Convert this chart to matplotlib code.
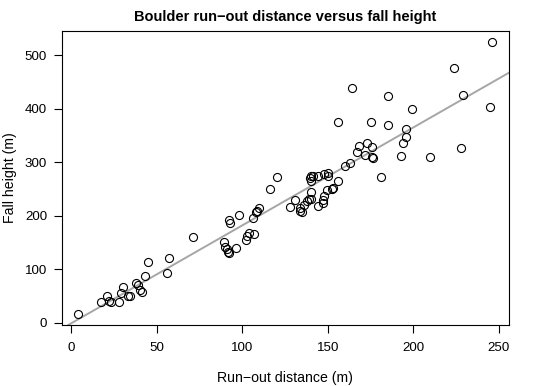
import numpy as np
import matplotlib
matplotlib.use("Agg")
import matplotlib.pyplot as plt

plt.rcParams['font.family'] = ['Liberation Sans', 'DejaVu Sans']

# run-out distance (m) and fall height (m)
runout = [4, 17.5, 20.8, 21.8, 23, 28, 29, 30, 33, 34.5,
          38, 39, 40, 41, 43, 45, 56, 57, 71, 89,
          90, 91, 91.5, 92, 96, 92, 93, 98, 102, 103,
          104, 107, 106, 108, 108.5, 110, 116, 120, 128, 131,
          134, 135, 134, 136, 138, 139, 140, 140, 140, 139.6,
          140, 141.5, 144, 148, 150, 150.3, 144, 147, 147.4, 148,
          149.4, 152.3, 153.2, 155.8, 156, 160, 163, 164, 167, 168,
          172, 173, 175.6, 175.6, 176.6, 175, 181, 185, 185, 194,
          193, 196, 196, 199, 210, 224, 228, 229, 245, 246]
height = [16, 39, 50, 41, 38, 39, 55, 67, 50, 50,
          74, 70, 61, 57, 88, 113, 92, 120, 160, 150,
          142, 137, 133, 130, 139, 192, 187, 201, 155, 162,
          167, 166, 196, 206, 209, 214, 250, 273, 217, 229,
          209, 206, 214, 220, 228, 231, 231, 245, 274, 270,
          264, 274, 275, 277.5, 279, 274, 218, 223, 229.5, 236,
          248, 249.5, 252.5, 264, 376, 293, 298, 438, 319, 331,
          314, 336, 328, 310, 307, 376, 273, 424, 370, 336,
          312, 362, 347, 400, 309, 476, 327, 425, 403, 525]

# fitted line drawn in grey
fit_slope = 1.83
fit_intercept = -1.0

x_ticks = [0, 50, 100, 150, 200, 250]
y_ticks = [0, 100, 200, 300, 400, 500]

W, H = 540, 386
fig = plt.figure(figsize=(W / 100, H / 100), dpi=100)
ax = fig.add_axes([61.7 / W, 1 - 325 / H, (508.5 - 61.7) / W, (325 - 31) / H])

ax.plot(runout, height, 'o', mfc='none', mec='black', ms=5.8, mew=0.8)
ax.axline((0, fit_intercept), slope=fit_slope, color='#a6a6a6', lw=1.4, zorder=1)


def r_lim(v):
    lo, hi = min(v), max(v)
    pad = 0.04 * (hi - lo)
    return lo - pad, hi + pad


ax.set_xlim(*r_lim(runout))
ax.set_ylim(*r_lim(height))
ax.set_xticks(x_ticks)
ax.set_yticks(y_ticks)
ax.tick_params(direction='out', length=5.5, width=0.8, labelsize=9.6, colors='black')
ax.tick_params(axis='x', pad=6.5)
ax.tick_params(axis='y', pad=5)
for s in ax.spines.values():
    s.set_linewidth(0.8)

cx = (61.7 + 508.5) / 2 / W
fig.text(cx, 1 - 378 / H, "Run\u2212out distance (m)", ha='center', va='center', fontsize=10.2)
fig.text(10 / W, 1 - 178 / H, "Fall height (m)", ha='center', va='center',
         rotation=90, fontsize=10.2)
fig.text(cx, 1 - 17 / H, "Boulder run\u2212out distance versus fall height",
         ha='center', va='center', fontsize=10.5, fontweight='bold')

fig.savefig("out.png", dpi=100)
